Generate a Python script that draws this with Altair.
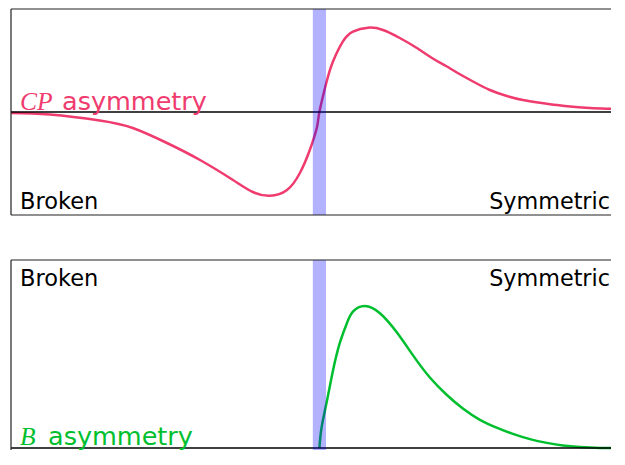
import altair as alt
import pandas as pd

# CP asymmetry profile (position across the wall, value)
cp_x = [-10.28, -8.98, -7.32, -6.22, -5.08, -3.98, -2.88, -2.22, -1.65, -1.08, -0.65, -0.32, -0.08, 0.0,
        0.24, 0.45, 0.78, 1.12, 1.62, 2.12, 2.68, 3.25, 3.78, 4.22, 4.58, 5.12, 5.68, 6.25, 6.78, 7.35,
        7.92, 8.45, 9.02, 9.58, 10.18]
cp_y = [-0.01, -0.025, -0.085, -0.16, -0.31, -0.48, -0.68, -0.80, -0.837, -0.78, -0.61, -0.38, -0.15, 0.0,
        0.303, 0.503, 0.703, 0.803, 0.843, 0.82, 0.74, 0.64, 0.535, 0.46, 0.395, 0.305, 0.22, 0.16, 0.12, 0.093,
        0.07, 0.053, 0.04, 0.033, 0.027]

# B asymmetry profile
b_x = [0.0, 0.073, 0.24, 0.45, 0.683, 0.907, 1.117, 1.517, 2.017, 2.573, 3.127, 3.683, 4.24, 4.793,
       5.35, 5.907, 6.45, 7.017, 7.583, 8.117, 8.683, 9.35, 10.183]
b_y = [0.0, 0.22, 0.483, 0.82, 1.12, 1.32, 1.45, 1.51, 1.433, 1.233, 0.983, 0.75, 0.567, 0.417,
       0.30, 0.217, 0.15, 0.095, 0.055, 0.027, 0.01, 0.0, 0.0]

wall = [-0.22, 0.22]
labels = ["Broken", "Symmetric", "asymmetry", "CP", "B"]

PINK = "#ef3b6e"
GREEN = "#00bf2e"
W = 600
H_TOP, H_BOT = 206, 190
xs = alt.Scale(domain=[-10.28, 9.72], nice=False, zero=False)

one = pd.DataFrame({"k": [0]})
wall_df = pd.DataFrame({"a": [wall[0]], "b": [wall[1]]})


def txt(s, x, y, size, color="black", font="DejaVu Sans", style="normal", align="left"):
    return alt.Chart(one).mark_text(
        align=align, baseline="alphabetic", font=font, fontSize=size,
        color=color, fontStyle=style
    ).encode(x=alt.value(x), y=alt.value(y), text=alt.value(s))


def border(**enc):
    return alt.Chart(one).mark_rule(color="#222222", strokeWidth=1.2).encode(**enc)


def panel(xv, yv, color, ydom, h, name, asym_x, y_side, y_asym, with_bottom):
    df = pd.DataFrame({"x": xv, "y": yv})
    ys = alt.Scale(domain=ydom, nice=False, zero=False)
    line = alt.Chart(df).mark_line(color=color, strokeWidth=2.5, interpolate="natural", clip=True).encode(
        x=alt.X("x:Q", scale=xs, axis=None),
        y=alt.Y("y:Q", scale=ys, axis=None),
    )
    zero = alt.Chart(one).mark_rule(color="black", strokeWidth=1.6).encode(y=alt.datum(0))
    band = alt.Chart(wall_df).mark_rect(color="blue", opacity=0.3).encode(
        x=alt.X("a:Q", scale=xs, axis=None), x2="b:Q"
    )
    layers = [line, zero, band,
              border(y=alt.value(0)), border(x=alt.value(0))]
    if with_bottom:
        layers.append(border(y=alt.value(h)))
    layers += [
        txt(labels[0], 9, y_side, 22.5),
        txt(labels[1], W - 1, y_side, 22.3, align="right"),
        txt(name, 9, y_asym, 25.5, color, "Liberation Serif", "italic"),
        txt(labels[2], asym_x, y_asym, 25.5, color),
    ]
    return alt.layer(*layers).properties(width=W, height=h)


top = panel(cp_x, cp_y, PINK, [-1.03, 1.03], H_TOP, labels[3], 51, 200, 101, True)
bot = panel(b_x, b_y, GREEN, [-0.021, 2.0], H_BOT, labels[4], 37, 26, 185, False)

chart = alt.vconcat(top, bot, spacing=43).properties(
    padding={"left": 2, "top": 0, "right": 0, "bottom": 0},
).configure_view(stroke=None)

chart.save("out.html", embed_options={"renderer": "svg", "actions": False})
